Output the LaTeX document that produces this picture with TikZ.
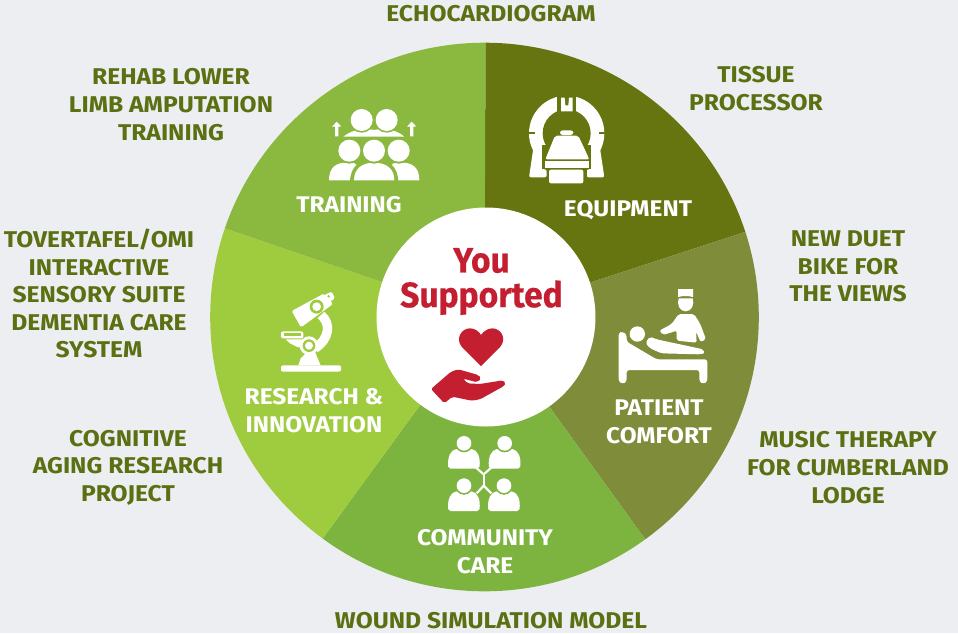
\documentclass[tikz,border=0pt]{standalone}
\usepackage{fontspec}
\setmainfont{Fira Sans}[FakeStretch=1.08]
\newfontfamily\redfont{Fira Sans}[FakeStretch=0.95,FakeBold=0.4]
\definecolor{bgc}{HTML}{EDEEF1}
\definecolor{eqc}{HTML}{66750F}
\definecolor{patc}{HTML}{7F8C3A}
\definecolor{comc}{HTML}{7DB440}
\definecolor{resc}{HTML}{9FCC3F}
\definecolor{trac}{HTML}{8BB93F}
\definecolor{olive}{HTML}{5B7012}
\definecolor{redc}{HTML}{C41F30}
\tikzset{
  outer/.style={text=olive,font=\bfseries\fontsize{17.1}{20.7}\selectfont,align=center,inner sep=0pt},
  inner/.style={text=white,font=\bfseries\fontsize{17}{20.9}\selectfont,align=center,inner sep=0pt},
  zoomA/.style={shift={(#1)},x=0.25pt,y=-0.25pt},
}
\begin{document}
\begin{tikzpicture}[x=0.75pt,y=-0.75pt]
\useasboundingbox (0,0) rectangle (958,633);
\fill[bgc] (0,0) rectangle (958,633);
\coordinate (c) at (484.5,317);
\begin{scope}
\clip (c) circle [radius=274.3];
\fill[eqc] (c) -- (486,-100) -- (1005.5,-100) -- (1005.5,147) -- cycle;
\fill[patc] (c) -- (1005.5,147) -- (1005.5,761) -- (805.5,761) -- cycle;
\fill[comc] (c) -- (805.5,761) -- (161.5,759) -- cycle;
\fill[resc] (c) -- (161.5,759) -- (-36.5,759) -- (-36.5,139) -- cycle;
\fill[trac] (c) -- (-36.5,139) -- (-36.5,-100) -- (486,-100) -- cycle;
\end{scope}
\fill[white] (486,317) circle [radius=109.5];
% Equipment icon
\begin{scope}[zoomA={500,70}]
\fill[white] (200,190) circle [radius=113];
\fill[white,rounded corners=1.5pt] (100,235) -- (87,322) -- (140,322) -- (140,298) -- (127,298) -- (127,235) -- cycle;
\fill[white,rounded corners=1.5pt] (300,235) -- (313,322) -- (260,322) -- (260,298) -- (273,298) -- (273,235) -- cycle;
\fill[eqc] (200,190) circle [radius=72];
\fill[eqc] (127,225) rectangle (273,298);
\fill[eqc] (140,298) rectangle (260,345);
\fill[eqc] (172,70) rectangle (228,128);
\fill[white] (183,83) -- (194,83) -- (196,106) -- (205,106) -- (207,83) -- (218,83) -- (218,124) -- (183,124) -- cycle;
\fill[eqc] (85,187) rectangle (104,193);
\fill[eqc] (296,187) rectangle (315,193);
\fill[white,rounded corners=1.5pt] (165,197) -- (235,197) -- (268,268) -- (136,268) -- cycle;
\fill[white] (134,274) rectangle (266,295);
\fill[white,rounded corners=1.5pt] (147,299) rectangle (250,340);
\fill[white,rounded corners=2pt] (180,181) rectangle (220,195);
\end{scope}
% Patient icon
\begin{scope}[zoomA={600,300}]
\fill[white] (236,-5) -- (278,-5) .. controls (284,12) and (276,34) .. (257,34) .. controls (238,34) and (230,12) .. (236,-5) -- cycle;
\fill[white] (234,-33) -- (279,-33) -- (279,-9) .. controls (265,-13) and (248,-13) .. (234,-9) -- cycle;
\fill[white,rounded corners=1.5pt] (236,42) -- (282,42) -- (300,70) -- (318,118) -- (302,126) -- (288,95) -- (290,128) -- (230,122) -- (230,92) -- (190,105) -- (178,92) -- (215,72) -- cycle;
\fill[white] (112,102) circle [radius=23];
\fill[white,rounded corners=1.5pt] (150,110) -- (170,118) -- (310,148) -- (314,160) -- (300,163) -- (185,160) -- (150,145) -- (136,128) -- cycle;
\fill[white,rounded corners=2pt] (56,98) -- (68,95) -- (80,103) -- (80,125) -- (170,178) -- (322,178) -- (322,245) -- (310,252) -- (298,245) -- (298,210) -- (80,210) -- (80,245) -- (68,252) -- (56,245) -- cycle;
\end{scope}
% Training icon
\begin{scope}[zoomA={310,95}]
\fill[white] (100,125) .. controls (130,100) and (170,100) .. (192,105) .. controls (215,100) and (255,100) .. (283,125) -- cycle;
\foreach \x in {155,230} \fill[trac] (\x,75) circle [radius=38];
\foreach \x in {155,230} \fill[white] (\x,75) circle [radius=33];
\fill[white] (57,256) .. controls (57,220) and (75,200) .. (118,203) .. controls (145,203) and (150,215) .. (160,256) -- cycle;
\fill[white] (225,256) .. controls (235,215) and (240,203) .. (266,203) .. controls (310,200) and (328,220) .. (328,256) -- cycle;
\fill[trac] (120,262) .. controls (120,215) and (150,190) .. (192,192) .. controls (235,190) and (265,215) .. (265,262) -- cycle;
\fill[white] (132,256) .. controls (132,222) and (155,203) .. (192,203) .. controls (230,203) and (253,222) .. (253,256) -- cycle;
\foreach \x in {118,192,266} \fill[trac] (\x,167) circle [radius=39];
\foreach \x in {118,192,266} \fill[white] (\x,167) circle [radius=33];
\foreach \x in {80,305} \fill[white] (\x,80) -- (\x+14,95) -- (\x+5,95) -- (\x+5,124) -- (\x-5,124) -- (\x-5,95) -- (\x-14,95) -- cycle;
\end{scope}
% Microscope icon
\begin{scope}[zoomA={265,280}]
\fill[white,rounded corners=1.5pt] (48,256) rectangle (228,275);
\fill[white] (100,256) -- (107,235) -- (120,222) -- (150,215) -- (158,235) -- (167,256) -- cycle;
\draw[white,line width=7pt] (168,105) .. controls (198,130) and (195,175) .. (150,205);
\fill[white,rounded corners=1.5pt] (48,154) rectangle (115,175);
\fill[resc] (56,160) rectangle (107,168);
\fill[white] (62,178) -- (114,178) -- (110,190) -- (115,205) -- (95,200) -- (75,190) -- cycle;
\fill[white] (132,197) circle [radius=28];
\fill[resc] (132,197) circle [radius=19];
\fill[white] (132,197) circle [radius=12];
\fill[white,rounded corners=1.5pt] (80,93) -- (178,40) -- (204,72) -- (108,142) -- cycle;
\fill[white,rounded corners=1pt] (178,45) -- (200,35) -- (210,55) -- (190,68) -- cycle;
\fill[resc] (191,49) circle [radius=4];
\fill[resc] (155,80) circle [radius=21];
\fill[white] (155,80) circle [radius=13];
\end{scope}
% Community icon
\begin{scope}[zoomA={430,425}]
\foreach \x/\y in {102/55,224/55,102/182,222/182} {
  \fill[white,rounded corners=1.5pt] (\x-47,\y+76) .. controls (\x-50,\y+40) and (\x-40,\y+20) .. (\x-17,\y+16) -- (\x,\y+24) -- (\x+17,\y+16) .. controls (\x+40,\y+20) and (\x+50,\y+40) .. (\x+46,\y+76) -- cycle;
  \fill[comc] (\x,\y) circle [radius=27];
  \fill[white] (\x,\y) circle [radius=22];
}
\draw[white,line width=1.6pt] (136,126) -- (161,148) -- (186,126);
\draw[white,line width=1.6pt] (161,148) -- (161,180);
\draw[white,line width=1.6pt] (140,205) -- (161,182) -- (184,205);
\end{scope}
% Heart and hand
\begin{scope}[zoomA={380,220}]
\fill[redc] (303,438) -- (245,380) .. controls (225,355) and (245,325) .. (270,325) .. controls (285,325) and (298,335) .. (303,345) .. controls (310,335) and (322,325) .. (337,325) .. controls (362,325) and (382,355) .. (361,380) -- cycle;
\fill[redc,rounded corners=1.5pt] (153,507) -- (213,455) -- (235,448) -- (295,465) -- (304,475) -- (292,487) -- (250,476) -- (262,490) -- (300,492) -- (368,481) -- (378,488) -- (372,498) -- (300,538) -- (275,542) -- (217,530) -- (193,550) -- cycle;
\end{scope}
% Centre text
\node[text=redc,inner sep=0pt,font=\redfont\bfseries\fontsize{26.5}{26}\selectfont,align=center] (you) at (481.5,281.5) {You\\Supported};
% Segment labels
\node[inner] (training) at (349,204.5) {TRAINING};
\node[inner] (equipment) at (628,210) {EQUIPMENT};
\node[inner] (patient) at (659,421.5) {PATIENT\\COMFORT};
\node[inner] (community) at (485,551.5) {COMMUNITY\\CARE};
\node[inner] (research) at (314,410.5) {RESEARCH \&\\INNOVATION};
% Outer labels
\node[outer] (echo) at (491,13.5) {ECHOCARDIOGRAM};
\node[outer] (tissue) at (756,88.5) {TISSUE\\PROCESSOR};
\node[outer] (bike) at (848,266.5) {NEW DUET\\BIKE FOR\\THE VIEWS};
\node[outer] (music) at (848,467.5) {MUSIC THERAPY\\FOR CUMBERLAND\\LODGE};
\node[outer] (wound) at (491,620.5) {WOUND SIMULATION MODEL};
\node[outer] (aging) at (128,467.5) {COGNITIVE\\AGING RESEARCH\\PROJECT};
\node[outer] (tover) at (99,293.5) {TOVERTAFEL/OMI\\INTERACTIVE\\SENSORY SUITE\\DEMENTIA CARE\\SYSTEM};
\node[outer] (rehab) at (171,104.5) {REHAB LOWER\\LIMB AMPUTATION\\TRAINING};
\end{tikzpicture}
\end{document}
